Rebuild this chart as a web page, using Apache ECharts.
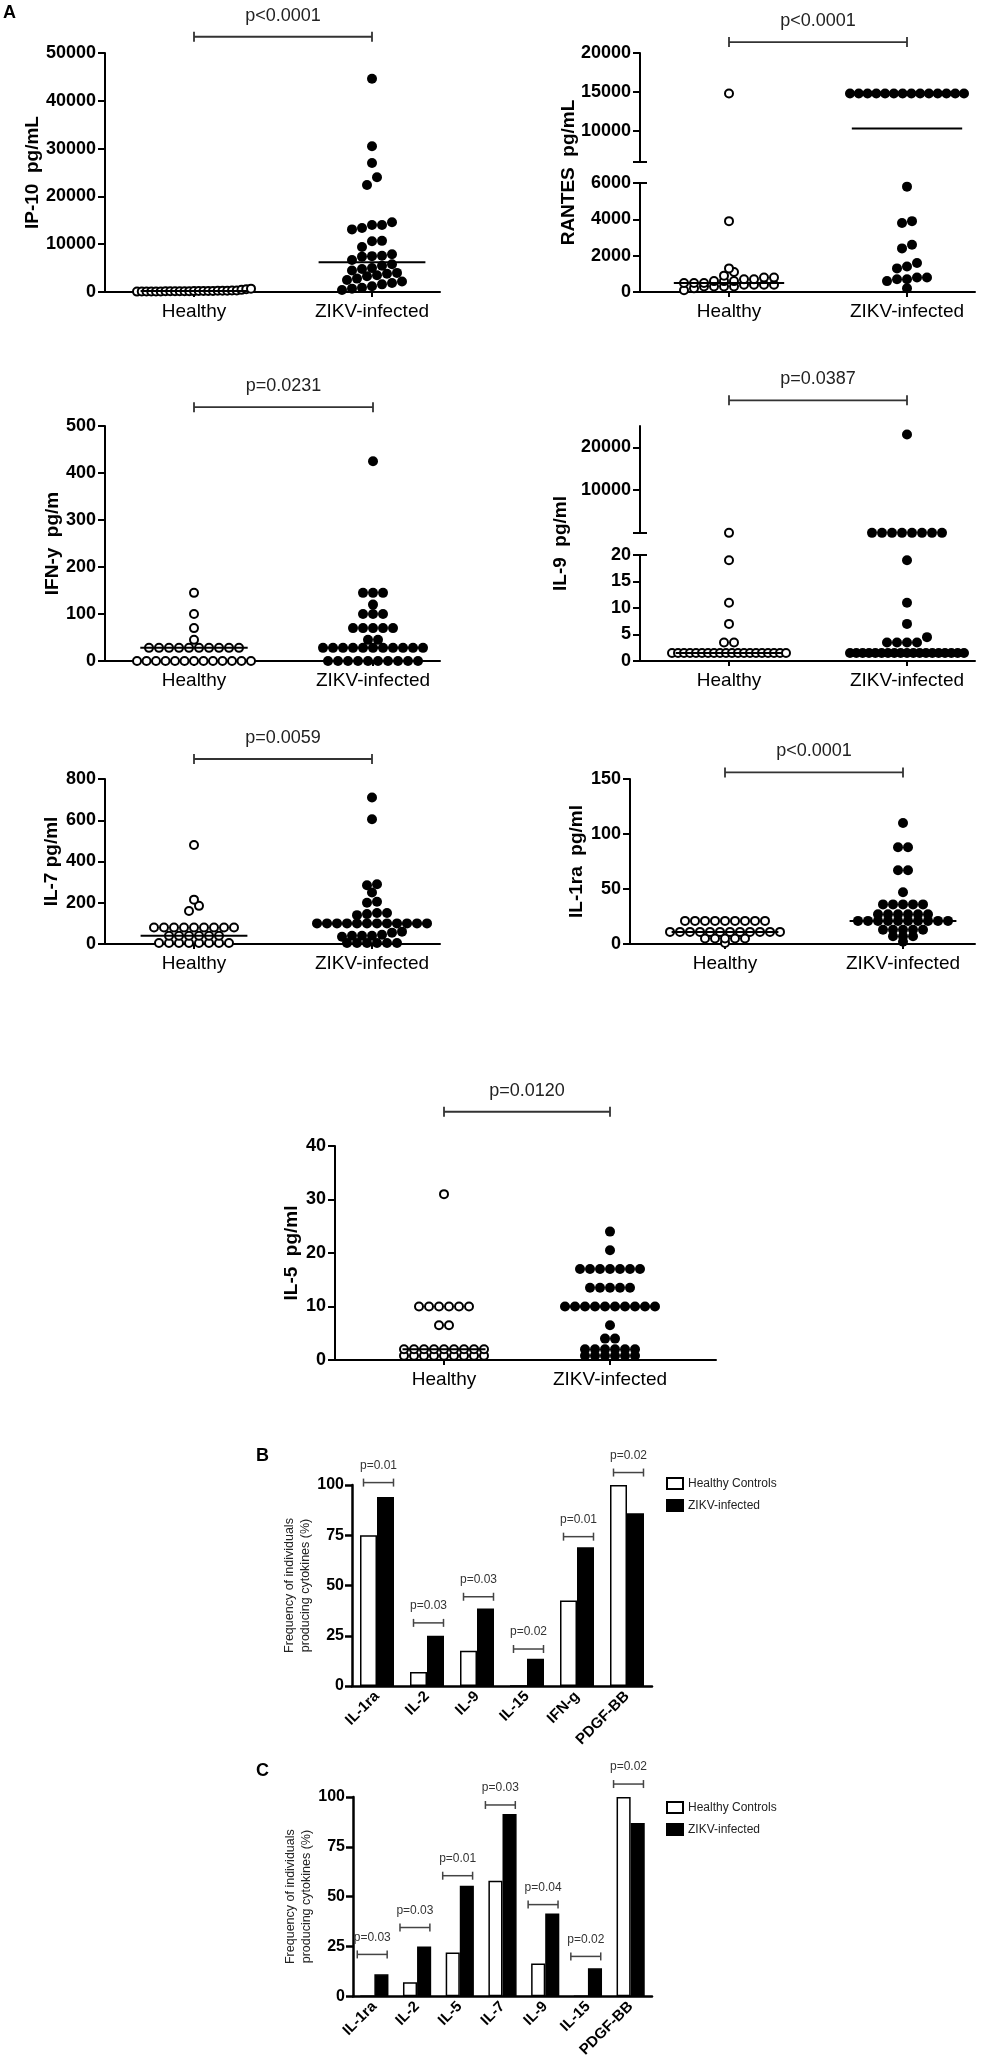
<!DOCTYPE html>
<html>
<head>
<meta charset="utf-8">
<script src="https://cdn.jsdelivr.net/npm/echarts@6/dist/echarts.min.js"></script>
<style>
html,body{margin:0;padding:0;background:#fff;}
#fig{width:1000px;height:2060px;}
</style>
</head>
<body>
<div id="fig"></div>
<script>
var FONT = '"Liberation Sans", Arial, sans-serif';
var groups = ['Healthy', 'ZIKV-infected'];

// ---- panel A: cytokine levels per individual ----
var ip10Healthy = [80, 100, 110, 120, 120, 130, 140, 150, 150, 160, 170, 180, 190, 200, 200, 210, 230, 250, 260, 280, 300, 310, 450, 600, 700];
var ip10Zikv = [44600, 30500, 27000, 24000, 22400, 14600, 14000, 14000, 13400, 13100, 10700, 10600, 9400, 7900, 7600, 7500, 7400, 6700,
  5800, 5500, 5000, 4800, 4500, 4000, 3800, 3500, 3300, 2800, 2500, 2200, 1900, 1600, 1200, 900, 700, 400];

var rantesHealthy = [14800, 3900, 1300, 1100, 900, 800, 800, 700, 700, 600, 600, 600, 500, 500, 500, 400, 400, 400, 400, 300, 300, 300, 300, 200, 100];
var rantesZikv = [14800, 14800, 14800, 14800, 14800, 14800, 14800, 14800, 14800, 14800, 14800, 14800, 14800, 14800,
  5800, 3900, 3800, 2600, 2400, 1600, 1400, 1300, 800, 800, 700, 700, 600, 200];

var ifnHealthy = [145, 100, 70, 45, 28, 28, 28, 28, 28, 28, 28, 28, 28, 28, 0, 0, 0, 0, 0, 0, 0, 0, 0, 0, 0, 0, 0];
var ifnZikv = [425, 145, 145, 145, 120, 100, 100, 100, 70, 70, 70, 70, 70, 45, 45,
  28, 28, 28, 28, 28, 28, 28, 28, 28, 28, 28, 0, 0, 0, 0, 0, 0, 0, 0, 0, 0];

var il9Healthy = [30, 19, 11, 7, 3.5, 3.5, 1.5, 1.5, 1.5, 1.5, 1.5, 1.5, 1.5, 1.5, 1.5, 1.5, 1.5, 1.5, 1.5, 1.5, 1.5, 1.5, 1.5, 1.5, 1.5, 1.5];
var il9Zikv = [23000, 30, 30, 30, 30, 30, 30, 30, 30, 19, 11, 7, 4.5, 3.5, 3.5, 3.5, 3.5,
  1.5, 1.5, 1.5, 1.5, 1.5, 1.5, 1.5, 1.5, 1.5, 1.5, 1.5, 1.5, 1.5, 1.5, 1.5, 1.5, 1.5, 1.5, 1.5];

var il7Healthy = [480, 215, 185, 160, 80, 80, 80, 80, 80, 80, 80, 80, 80, 40, 40, 40, 40, 40, 40, 5, 5, 5, 5, 5, 5, 5, 5];
var il7Zikv = [710, 605, 290, 285, 250, 205, 200, 150, 150, 145, 140, 100, 100, 100, 100, 100, 100, 100, 100, 100, 100, 100, 100,
  60, 55, 45, 40, 40, 40, 35, 5, 5, 5, 5, 5, 5];

var il1raHealthy = [21, 21, 21, 21, 21, 21, 21, 21, 21, 11, 11, 11, 11, 11, 11, 11, 11, 11, 11, 11, 11, 5, 5, 5, 5, 5, 1];
var il1raZikv = [110, 88, 88, 67, 67, 47, 36, 36, 36, 36, 36, 27, 27, 27, 27, 27, 27,
  21, 21, 21, 21, 21, 21, 21, 21, 21, 21, 13, 13, 13, 13, 13, 7, 7, 7, 2];

var il5Healthy = [31, 10, 10, 10, 10, 10, 10, 6.5, 6.5, 2, 2, 2, 2, 2, 2, 2, 2, 2, 0.8, 0.8, 0.8, 0.8, 0.8, 0.8, 0.8, 0.8, 0.8];
var il5Zikv = [24, 20.5, 17, 17, 17, 17, 17, 17, 17, 13.5, 13.5, 13.5, 13.5, 13.5, 10, 10, 10, 10, 10, 10, 10, 10, 10, 10,
  6.5, 4, 4, 2, 2, 2, 2, 2, 2, 0.8, 0.8, 0.8, 0.8, 0.8, 0.8];

// ---- panels B and C: frequency of producers (%) ----
var catsB = ['IL-1ra', 'IL-2', 'IL-9', 'IL-15', 'IFN-g', 'PDGF-BB'];
var healthyB = [75, 7, 17.5, 0, 42.5, 100];
var zikvB = [94, 25, 38.5, 13.5, 69, 86];
var pLabelsB = ['p=0.01', 'p=0.03', 'p=0.03', 'p=0.02', 'p=0.01', 'p=0.02'];

var catsC = ['IL-1ra', 'IL-2', 'IL-5', 'IL-7', 'IL-9', 'IL-15', 'PDGF-BB'];
var healthyC = [0, 7, 22, 58, 16.5, 0, 100];
var zikvC = [11, 25, 55.5, 91.5, 41.5, 14, 87];
var pLabelsC = ['p=0.03', 'p=0.03', 'p=0.01', 'p=0.03', 'p=0.04', 'p=0.02', 'p=0.02'];

// ---- layout (pixels) ----
var DOT = 10;
var panels = [
  {name: 'IP-10  pg/mL', h: ip10Healthy, z: ip10Zikv, p: 'p<0.0001', pY: 53400, left: 105, right: 440, hx: 194, zx: 372, nameGap: 63, rowTol: 9, halfRow: 57, medHalf: 0.3,
    segs: [{min: 0, max: 50000, top: 53, bottom: 292, interval: 10000}]},
  {name: 'RANTES  pg/mL', h: rantesHealthy, z: rantesZikv, p: 'p<0.0001', pY: 21400, left: 640, right: 975, hx: 729, zx: 907, nameGap: 62, rowTol: 6, halfRow: 57, medHalf: 0.31,
    segs: [{min: 0, max: 6000, top: 183, bottom: 292, interval: 2000, capTop: true},
           {min: 6000, max: 20000, top: 53, bottom: 162, ticks: [10000, 15000, 20000], capBottom: true}]},
  {name: 'IFN-y  pg/m', h: ifnHealthy, z: ifnZikv, p: 'p=0.0231', pY: 540, left: 105, right: 440, hx: 194, zx: 373, nameGap: 43, rowTol: 6, halfRow: 57, medHalf: 0.3,
    segs: [{min: 0, max: 500, top: 426, bottom: 661, interval: 100}]},
  {name: 'IL-9  pg/ml', h: il9Healthy, z: il9Zikv, p: 'p=0.0387', pY: 31000, left: 640, right: 975, hx: 729, zx: 907, nameGap: 70, rowTol: 6, halfRow: 57, medHalf: 0.3,
    segs: [{min: 0, max: 20, top: 555, bottom: 661, interval: 5, capTop: true},
           {min: 0, max: 25000, top: 426, bottom: 533, ticks: [10000, 20000], capBottom: true}]},
  {name: 'IL-7 pg/ml', h: il7Healthy, z: il7Zikv, p: 'p=0.0059', pY: 897, left: 105, right: 440, hx: 194, zx: 372, nameGap: 44, rowTol: 6, halfRow: 57, medHalf: 0.3,
    segs: [{min: 0, max: 800, top: 779, bottom: 944, interval: 200}]},
  {name: 'IL-1ra  pg/ml', h: il1raHealthy, z: il1raZikv, p: 'p<0.0001', pY: 156, left: 630, right: 975, hx: 725, zx: 903, nameGap: 44, rowTol: 4, halfRow: 57, medHalf: 0.3,
    segs: [{min: 0, max: 150, top: 779, bottom: 944, interval: 50}]},
  {name: 'IL-5  pg/ml', h: il5Healthy, z: il5Zikv, p: 'p=0.0120', pY: 46.4, left: 335, right: 716, hx: 444, zx: 610, nameGap: 34, rowTol: 6, halfRow: 50, medHalf: 0.25,
    segs: [{min: 0, max: 40, top: 1146, bottom: 1360, interval: 10}]}
];

var barPanels = [
  {cats: catsB, h: healthyB, z: zikvB, labels: pLabelsB, bracketY: [101.2, 31.4, 44.4, 18.4, 74.3, 106.2], o1: -0.27, o2: 0.33,
    left: 352, top: 1485, width: 300, height: 201, gap: '32%', legendTop: 1477},
  {cats: catsC, h: healthyC, z: zikvC, labels: pLabelsC, bracketY: [21, 34.5, 60.5, 96, 46, 20, 106.5], o1: -0.4, o2: 0.3,
    left: 353, top: 1797, width: 299, height: 200, gap: '34%', legendTop: 1801}
];

function median(a) {
  var s = a.slice().sort(function (x, y) { return x - y; });
  var n = s.length;
  return n % 2 ? s[(n - 1) / 2] : (s[n / 2 - 1] + s[n / 2]) / 2;
}

function segOf(panel, v) {
  for (var i = 0; i < panel.segs.length; i++) {
    if (v <= panel.segs[i].max) return i;
  }
  return panel.segs.length - 1;
}

// spread points of equal-ish value sideways, like a dot plot
function swarm(values, panel, center, ppu) {
  var out = panel.segs.map(function () { return []; });
  var bySeg = panel.segs.map(function () { return []; });
  values.forEach(function (v) { bySeg[segOf(panel, v)].push(v); });
  bySeg.forEach(function (vals, si) {
    var seg = panel.segs[si];
    var pyPerUnit = (seg.bottom - seg.top) / (seg.max - seg.min);
    var sorted = vals.slice().sort(function (a, b) { return a - b; });
    var rows = [];
    sorted.forEach(function (v) {
      var last = rows[rows.length - 1];
      if (last && (v - last[0]) * pyPerUnit < panel.rowTol) last.push(v);
      else rows.push([v]);
    });
    rows.forEach(function (row) {
      var n = row.length;
      var step = n > 1 ? Math.min(DOT, 2 * panel.halfRow / (n - 1)) : 0;
      row.forEach(function (v, i) {
        out[si].push([center + (i - (n - 1) / 2) * step / ppu, v]);
      });
    });
  });
  return out;
}

function scatterBracket(label) {
  return function (params, api) {
    var a = api.coord([api.value(0), api.value(2)]);
    var b = api.coord([api.value(1), api.value(2)]);
    var ls = {stroke: '#333', lineWidth: 1.8};
    return {type: 'group', children: [
      {type: 'line', shape: {x1: a[0], y1: a[1], x2: b[0], y2: b[1]}, style: ls},
      {type: 'line', shape: {x1: a[0], y1: a[1] - 5, x2: a[0], y2: a[1] + 5}, style: ls},
      {type: 'line', shape: {x1: b[0], y1: b[1] - 5, x2: b[0], y2: b[1] + 5}, style: ls},
      {type: 'text', x: (a[0] + b[0]) / 2, y: a[1] - 21,
        style: {text: label, fontSize: 18, fontFamily: FONT, fill: '#222', align: 'center', verticalAlign: 'middle'}}
    ]};
  };
}

function barBracket(labels, o1, o2) {
  return function (params, api) {
    var c = api.coord([api.value(0), api.value(1)]);
    var bw = api.size([1, 0])[0];
    var x1 = c[0] + o1 * bw, x2 = c[0] + o2 * bw, y = c[1];
    var ls = {stroke: '#444', lineWidth: 1.5};
    return {type: 'group', children: [
      {type: 'line', shape: {x1: x1, y1: y, x2: x2, y2: y}, style: ls},
      {type: 'line', shape: {x1: x1, y1: y - 4, x2: x1, y2: y + 4}, style: ls},
      {type: 'line', shape: {x1: x2, y1: y - 4, x2: x2, y2: y + 4}, style: ls},
      {type: 'text', x: (x1 + x2) / 2, y: y - 17,
        style: {text: labels[params.dataIndex], fontSize: 12, fontFamily: FONT, fill: '#333', align: 'center', verticalAlign: 'middle'}}
    ]};
  };
}

function capRender(params, api) {
  var p = api.coord([api.value(0), api.value(1)]);
  return {type: 'line', shape: {x1: p[0] - 7, y1: p[1], x2: p[0] + 7, y2: p[1]}, style: {stroke: '#000', lineWidth: 2}};
}

function plainNumber(v) { return String(v); }

var grids = [], xAxes = [], yAxes = [], series = [];
var axisLineStyle = {color: '#000', width: 2};

panels.forEach(function (p) {
  var ppu = p.zx - p.hx;
  var xmin = 1 - (p.hx - p.left) / ppu;
  var xmax = 2 + (p.right - p.zx) / ppu;
  var hPts = swarm(p.h, p, 1, ppu);
  var zPts = swarm(p.z, p, 2, ppu);
  var medH = median(p.h), medZ = median(p.z);
  var topSeg = p.segs.length - 1;

  p.segs.forEach(function (seg, si) {
    var gi = grids.length;
    grids.push({left: p.left, top: seg.top, width: p.right - p.left, height: seg.bottom - seg.top});
    xAxes.push({
      gridIndex: gi, type: 'value', min: xmin, max: xmax, show: si === 0,
      axisLine: {onZero: false, lineStyle: axisLineStyle},
      axisTick: {customValues: [1, 2], length: 5, lineStyle: axisLineStyle},
      axisLabel: {customValues: [1, 2], formatter: function (v) { return groups[Math.round(v) - 1]; },
        fontSize: 19, fontFamily: FONT, color: '#000', margin: 10},
      splitLine: {show: false}
    });
    var yAx = {
      gridIndex: gi, type: 'value', min: seg.min, max: seg.max,
      axisLine: {show: true, onZero: false, lineStyle: axisLineStyle},
      axisTick: {show: true, length: 7, lineStyle: axisLineStyle},
      axisLabel: {fontSize: 18, fontWeight: 'bold', fontFamily: FONT, color: '#000', margin: 9, formatter: plainNumber},
      splitLine: {show: false}
    };
    if (seg.interval) yAx.interval = seg.interval;
    if (seg.ticks) {
      yAx.axisTick.customValues = seg.ticks;
      yAx.axisLabel.customValues = seg.ticks;
    }
    yAxes.push(yAx);

    series.push({
      type: 'scatter', xAxisIndex: gi, yAxisIndex: gi, data: hPts[si], symbolSize: 8, clip: false, silent: true,
      itemStyle: {color: '#fff', borderColor: '#000', borderWidth: 2, opacity: 1}, z: 3
    });
    series.push({
      type: 'scatter', xAxisIndex: gi, yAxisIndex: gi, data: zPts[si], symbolSize: DOT, clip: false, silent: true,
      itemStyle: {color: '#000', opacity: 1}, z: 3
    });
    [[1, medH], [2, medZ]].forEach(function (m) {
      if (segOf(p, m[1]) !== si) return;
      series.push({
        type: 'line', xAxisIndex: gi, yAxisIndex: gi, symbol: 'none', silent: true, z: 4,
        data: [[m[0] - p.medHalf, m[1]], [m[0] + p.medHalf, m[1]]],
        lineStyle: {color: '#000', width: 2}
      });
    });
    var caps = [];
    if (seg.capTop) caps.push([xmin, seg.max]);
    if (seg.capBottom) caps.push([xmin, seg.min]);
    if (caps.length) {
      series.push({type: 'custom', xAxisIndex: gi, yAxisIndex: gi, clip: false, silent: true, data: caps, renderItem: capRender});
    }
    if (si === topSeg) {
      series.push({
        type: 'custom', xAxisIndex: gi, yAxisIndex: gi, clip: false, silent: true,
        data: [[1, 2, p.pY]], encode: {x: [0, 1], y: 2}, renderItem: scatterBracket(p.p)
      });
    }
  });

  // axis title spanning the whole (possibly broken) axis
  var top = Math.min.apply(null, p.segs.map(function (s) { return s.top; }));
  var bottom = Math.max.apply(null, p.segs.map(function (s) { return s.bottom; }));
  var ni = grids.length;
  grids.push({left: p.left, top: top, width: p.right - p.left, height: bottom - top});
  xAxes.push({gridIndex: ni, type: 'value', show: false, min: 0, max: 1});
  yAxes.push({
    gridIndex: ni, type: 'value', min: 0, max: 1,
    axisLine: {show: false}, axisTick: {show: false}, axisLabel: {show: false}, splitLine: {show: false},
    name: p.name, nameLocation: 'middle', nameRotate: 90, nameGap: p.nameGap,
    nameTextStyle: {fontSize: 19, fontWeight: 'bold', fontFamily: FONT, color: '#000'}
  });
});

var legends = [];
barPanels.forEach(function (b) {
  var gi = grids.length;
  grids.push({left: b.left, top: b.top, width: b.width, height: b.height});
  xAxes.push({
    gridIndex: gi, type: 'category', data: b.cats,
    axisLine: {lineStyle: {color: '#000', width: 2.5}},
    axisTick: {show: false},
    axisLabel: {rotate: 45, interval: 0, fontSize: 15, fontWeight: 'bold', fontFamily: FONT, color: '#000', margin: 8}
  });
  yAxes.push({
    gridIndex: gi, type: 'value', min: 0, max: 100, interval: 25,
    axisLine: {show: true, lineStyle: {color: '#000', width: 2.5}},
    axisTick: {show: true, length: 7, lineStyle: {color: '#000', width: 2.5}},
    axisLabel: {fontSize: 16, fontWeight: 'bold', fontFamily: FONT, color: '#000', margin: 8},
    splitLine: {show: false},
    name: 'Frequency of individuals\nproducing cytokines (%)', nameLocation: 'middle', nameRotate: 90, nameGap: 38,
    nameTextStyle: {fontSize: 12.5, fontFamily: FONT, color: '#222', lineHeight: 16}
  });
  series.push({
    type: 'bar', name: 'Healthy Controls', xAxisIndex: gi, yAxisIndex: gi, data: b.h,
    barGap: '0%', barCategoryGap: b.gap, silent: true,
    itemStyle: {color: '#fff', borderColor: '#000', borderWidth: 1.5}
  });
  series.push({
    type: 'bar', name: 'ZIKV-infected', xAxisIndex: gi, yAxisIndex: gi, data: b.z,
    barGap: '0%', barCategoryGap: b.gap, silent: true,
    itemStyle: {color: '#000', borderColor: '#000', borderWidth: 1.5}
  });
  series.push({
    type: 'custom', xAxisIndex: gi, yAxisIndex: gi, clip: false, silent: true,
    data: b.bracketY.map(function (y, i) { return [i, y]; }),
    renderItem: barBracket(b.labels, b.o1, b.o2)
  });
  legends.push({
    data: ['Healthy Controls', 'ZIKV-infected'], orient: 'vertical', left: 666, top: b.legendTop,
    icon: 'rect', itemWidth: 16, itemHeight: 11, itemGap: 9, selectedMode: false, padding: 0,
    textStyle: {fontSize: 12, fontFamily: FONT, color: '#222'}
  });
});

var letterStyle = {fontSize: 18, fontWeight: 'bold', fontFamily: FONT, color: '#000'};
var option = {
  animation: false,
  backgroundColor: '#fff',
  title: [
    {text: 'A', left: 3, top: 4, padding: 0, textStyle: letterStyle},
    {text: 'B', left: 256, top: 1447, padding: 0, textStyle: letterStyle},
    {text: 'C', left: 256, top: 1762, padding: 0, textStyle: letterStyle}
  ],
  legend: legends,
  grid: grids,
  xAxis: xAxes,
  yAxis: yAxes,
  series: series
};

var chart = echarts.init(document.getElementById('fig'));
chart.setOption(option);
</script>
</body>
</html>
